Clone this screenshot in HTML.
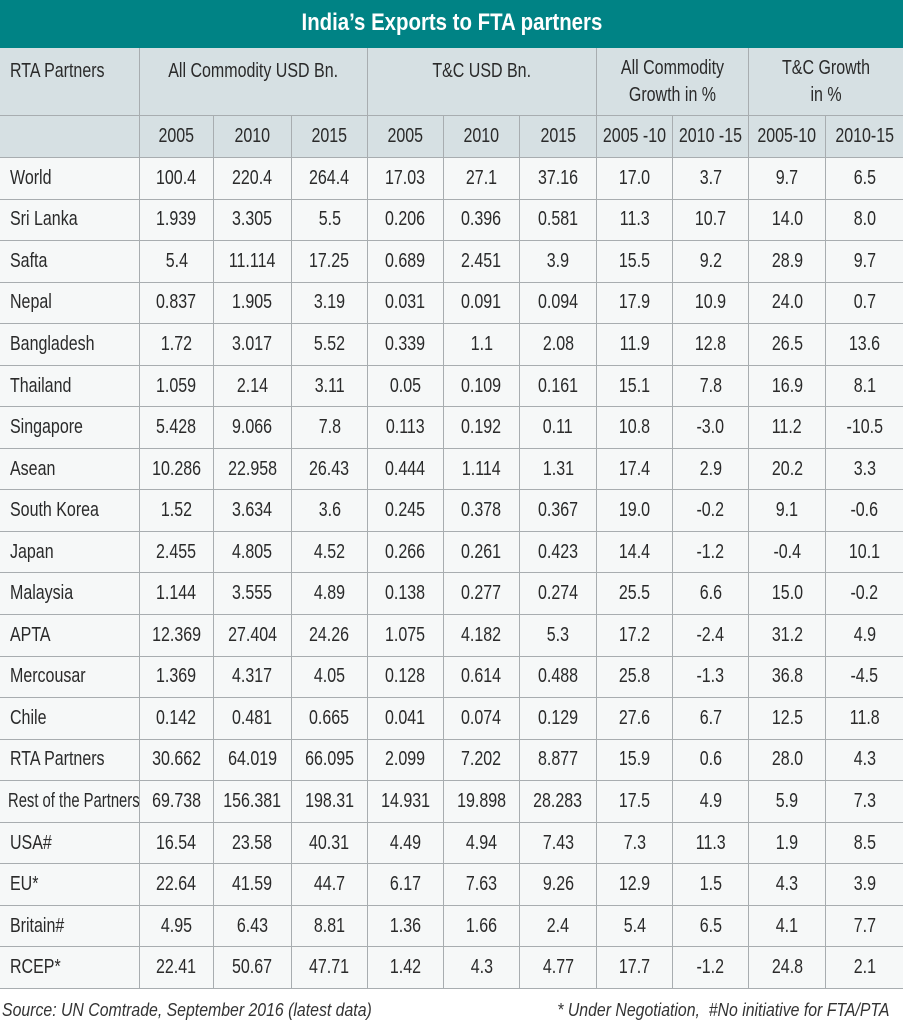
<!DOCTYPE html>
<html><head><meta charset="utf-8"><style>
body{margin:0;width:903px;height:1024px;background:#fff;overflow:hidden;font-family:"Liberation Sans",sans-serif;color:#2a2a2a}
.title{position:absolute;left:0;top:0;width:903px;height:48px;background:#008385;color:#fff;font-weight:bold;font-size:24px;text-align:center;line-height:46px}
.title span{display:inline-block;transform:scaleX(.85)}
.g{position:absolute;left:0;top:48px;width:903px;display:grid;grid-template-columns:140px 74px 78px 76px 76px 76px 77px 76px 76px 77px 77px;grid-template-rows:68px 42px repeat(20,41.55px)}
.g>div{border-right:1px solid #a8adb0;border-bottom:1px solid #a8adb0;background:#f6f8f8;font-size:20px;display:flex;align-items:center;justify-content:center;white-space:nowrap;overflow:visible;box-sizing:border-box}
.g>div.h{background:#d6e0e3}
.g>div.t{align-items:flex-start;padding-top:10px}
.g>div.l{justify-content:flex-start;padding-left:10px}
.g span{display:inline-block;transform:scaleX(.8);text-align:center;line-height:27px}
.g .l span{transform-origin:left center}
.f{position:absolute;top:1000px;font-style:italic;font-size:18px;color:#333;white-space:nowrap}
.f span{display:inline-block;transform:scaleX(.88)}
</style></head><body>
<div class="title"><span>India’s Exports to FTA partners</span></div>
<div class="g" id="g">
<div class="h t l"><span>RTA Partners</span></div>
<div class="h t" style="grid-column:span 3"><span>All Commodity USD Bn.</span></div>
<div class="h t" style="grid-column:span 3"><span>T&amp;C USD Bn.</span></div>
<div class="h" style="grid-column:span 2"><span>All Commodity<br>Growth in %</span></div>
<div class="h" style="grid-column:span 2;border-right:none"><span>T&amp;C Growth<br>in %</span></div>
</div>
<script>
var g=document.getElementById('g');
var hdr=['','2005','2010','2015','2005','2010','2015','2005 -10','2010 -15','2005-10','2010-15'];
var rows=[
['World','100.4','220.4','264.4','17.03','27.1','37.16','17.0','3.7','9.7','6.5'],
['Sri Lanka','1.939','3.305','5.5','0.206','0.396','0.581','11.3','10.7','14.0','8.0'],
['Safta','5.4','11.114','17.25','0.689','2.451','3.9','15.5','9.2','28.9','9.7'],
['Nepal','0.837','1.905','3.19','0.031','0.091','0.094','17.9','10.9','24.0','0.7'],
['Bangladesh','1.72','3.017','5.52','0.339','1.1','2.08','11.9','12.8','26.5','13.6'],
['Thailand','1.059','2.14','3.11','0.05','0.109','0.161','15.1','7.8','16.9','8.1'],
['Singapore','5.428','9.066','7.8','0.113','0.192','0.11','10.8','-3.0','11.2','-10.5'],
['Asean','10.286','22.958','26.43','0.444','1.114','1.31','17.4','2.9','20.2','3.3'],
['South Korea','1.52','3.634','3.6','0.245','0.378','0.367','19.0','-0.2','9.1','-0.6'],
['Japan','2.455','4.805','4.52','0.266','0.261','0.423','14.4','-1.2','-0.4','10.1'],
['Malaysia','1.144','3.555','4.89','0.138','0.277','0.274','25.5','6.6','15.0','-0.2'],
['APTA','12.369','27.404','24.26','1.075','4.182','5.3','17.2','-2.4','31.2','4.9'],
['Mercousar','1.369','4.317','4.05','0.128','0.614','0.488','25.8','-1.3','36.8','-4.5'],
['Chile','0.142','0.481','0.665','0.041','0.074','0.129','27.6','6.7','12.5','11.8'],
['RTA Partners','30.662','64.019','66.095','2.099','7.202','8.877','15.9','0.6','28.0','4.3'],
['Rest of the Partners','69.738','156.381','198.31','14.931','19.898','28.283','17.5','4.9','5.9','7.3'],
['USA#','16.54','23.58','40.31','4.49','4.94','7.43','7.3','11.3','1.9','8.5'],
['EU*','22.64','41.59','44.7','6.17','7.63','9.26','12.9','1.5','4.3','3.9'],
['Britain#','4.95','6.43','8.81','1.36','1.66','2.4','5.4','6.5','4.1','7.7'],
['RCEP*','22.41','50.67','47.71','1.42','4.3','4.77','17.7','-1.2','24.8','2.1']];
var h='';
hdr.forEach(function(c,i){h+='<div class="h"'+(i==10?' style="border-right:none"':'')+'><span>'+c+'</span></div>';});
rows.forEach(function(r){r.forEach(function(c,i){h+='<div'+(i==0?' class="l"':'')+(i==10?' style="border-right:none"':'')+(i==0&&c.length>15?' style="padding-left:8px"':'')+'><span'+(i==0&&c.length>15?' style="transform:scaleX(.74)"':'')+'>'+c+'</span></div>';});});
g.insertAdjacentHTML('beforeend',h);
</script>
<div class="f" style="left:2px"><span style="transform-origin:left">Source: UN Comtrade, September 2016 (latest data)</span></div>
<div class="f" style="right:14px"><span style="transform-origin:right">* Under Negotiation,&nbsp; #No initiative for FTA/PTA</span></div>
</body></html>
